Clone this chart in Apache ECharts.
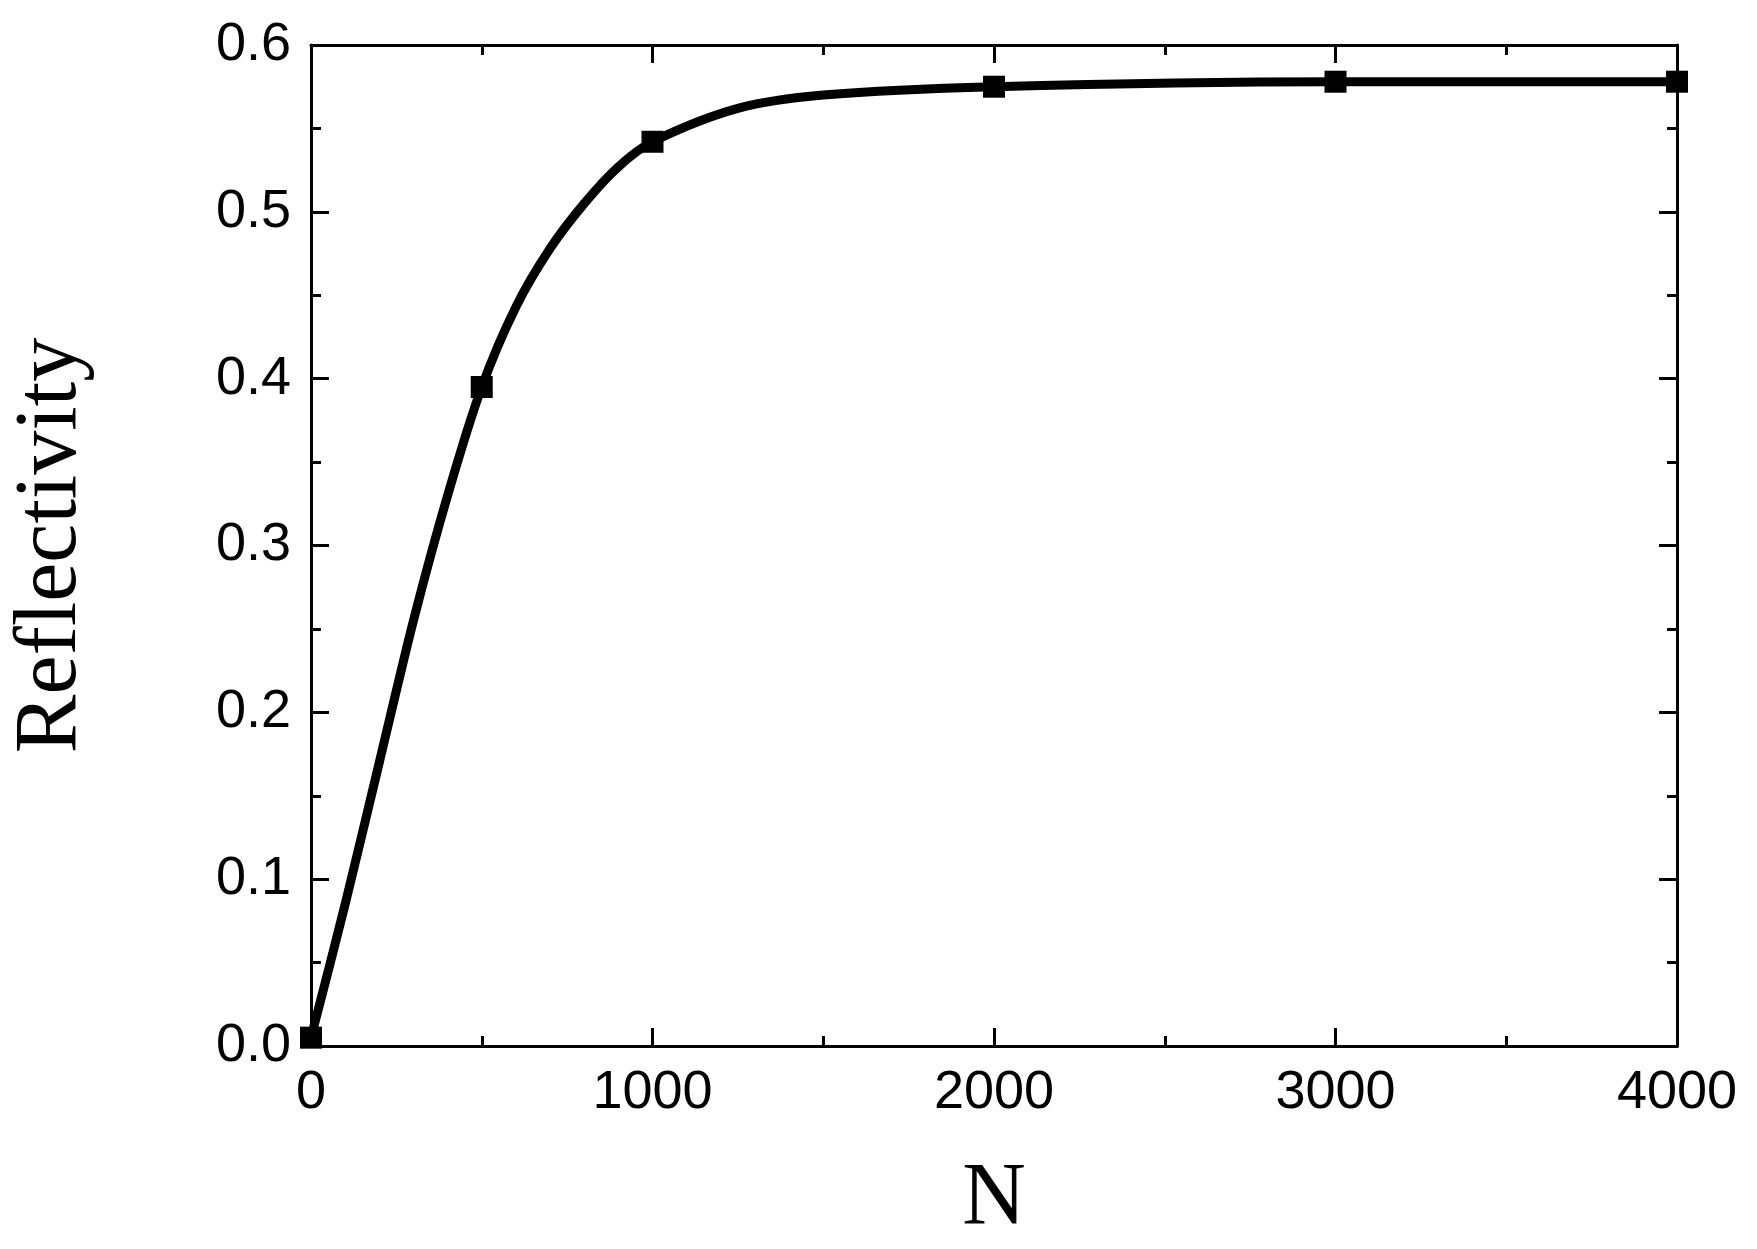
<!DOCTYPE html>
<html>
<head>
<meta charset="utf-8">
<script src="https://cdn.jsdelivr.net/npm/echarts@6/dist/echarts.min.js"></script>
<style>html,body{margin:0;background:#fff}#c{width:1757px;height:1249px}</style>
</head>
<body>
<div id="c"></div>
<script>
// measured points (markers)
let markN = [0, 500, 1000, 2000, 3000, 4000]
let markR = [0.005, 0.395, 0.542, 0.575, 0.578, 0.578]
// curve
let curveN = [0, 100, 200, 300, 400, 500, 600, 700, 800, 900, 1000, 1250, 1500, 2000, 3000, 4000]
let curveR = [0.005, 0.085, 0.17, 0.255, 0.33, 0.395, 0.443, 0.478, 0.505, 0.527, 0.542, 0.562, 0.57, 0.575, 0.578, 0.578]

let chart = echarts.init(document.getElementById('c'))
let tickFont = { fontFamily: 'Liberation Sans', fontSize: 54, color: '#000' }
let axisBase = {
  axisLine: { show: true, onZero: false, lineStyle: { color: '#000', width: 3 } },
  axisTick: { show: true, inside: true, length: 18, lineStyle: { color: '#000', width: 3 } },
  minorTick: { show: true, splitNumber: 2, length: 10, lineStyle: { color: '#000', width: 3 } },
  splitLine: { show: false },
}
chart.setOption({
  animation: false,
  grid: { left: 286, right: 80, top: 45, bottom: 189 },
  xAxis: [
    Object.assign({
      type: 'value', min: 0, max: 4000, interval: 1000,
      name: 'N', nameLocation: 'middle', nameGap: 110,
      nameTextStyle: { fontFamily: 'Liberation Serif', fontSize: 88, color: '#000' },
      axisLabel: Object.assign({ margin: 20, formatter: (v) => String(v) }, tickFont),
    }, axisBase),
    Object.assign({
      type: 'value', min: 0, max: 4000, interval: 1000, position: 'top',
      axisLabel: { show: false },
    }, axisBase),
  ],
  yAxis: [
    Object.assign({
      type: 'value', min: 0, max: 0.6, interval: 0.1,
      name: 'Reflectivity', nameLocation: 'middle', nameGap: 215,
      nameTextStyle: { fontFamily: 'Liberation Serif', fontSize: 88, color: '#000' },
      axisLabel: Object.assign({ margin: 20, formatter: (v) => v.toFixed(1) }, tickFont),
    }, axisBase),
    Object.assign({
      type: 'value', min: 0, max: 0.6, interval: 0.1, position: 'right',
      axisLabel: { show: false },
    }, axisBase),
  ],
  series: [
    {
      type: 'line',
      smooth: 0.3,
      data: curveN.map((n, i) => [n, curveR[i]]),
      showSymbol: false,
      lineStyle: { color: '#000', width: 9 },
    },
    {
      type: 'scatter',
      data: markN.map((n, i) => [n, markR[i]]),
      symbol: 'rect',
      symbolSize: 22,
      itemStyle: { color: '#000', opacity: 1 },
    },
  ],
})
</script>
</body>
</html>
